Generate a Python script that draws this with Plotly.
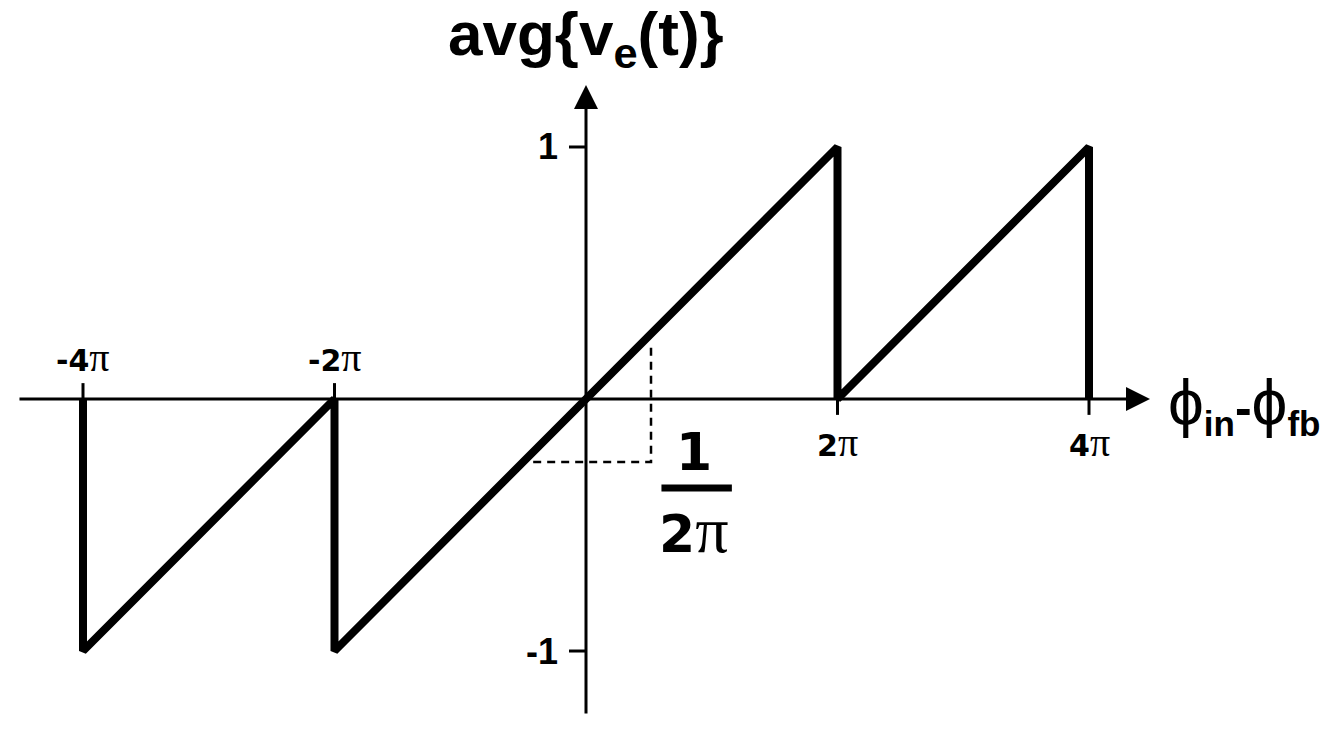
import plotly.graph_objects as go

# ---- data (x in units of pi) ----
saw_x = [-4, -4, -2, -2, 2, 2, 4, 4]
saw_y = [0, -1, 0, -1, 1, 0, 1, 0]

dash_x = [-0.42, 0.517, 0.517]
dash_y = [-0.25, -0.25, 0.214]

xtick_vals = [-4, -2, 2, 4]
xtick_labels = ["-4", "-2", "2", "4"]
ytick_vals = [1, -1]
ytick_labels = ["1", "-1"]

X_RANGE = [-4.660, 6.004]
Y_RANGE = [-1.3214, 1.5833]

SANS = "DejaVu Sans"
TITLE_FONT = "Liberation Sans"


def pi(size):
    return ('<span style="font-family:Liberation Serif;font-weight:normal;font-size:%dpx">π</span>' % size)


def phi(size):
    return ('<span style="font-family:Liberation Sans;font-weight:normal;font-size:%dpx">ϕ</span>' % size)


fig = go.Figure()

# sawtooth
fig.add_trace(go.Scatter(x=saw_x, y=saw_y, mode="lines",
                         line=dict(color="black", width=8),
                         hoverinfo="skip", showlegend=False))
# dashed guide
fig.add_trace(go.Scatter(x=dash_x, y=dash_y, mode="lines",
                         line=dict(color="black", width=2.5, dash="8px,6px"),
                         hoverinfo="skip", showlegend=False))

ann = []
# axes with arrows
ann.append(dict(x=4.485, y=0, ax=-4.517, ay=0, xref="x", yref="y", axref="x", ayref="y",
                showarrow=True, arrowhead=2, arrowsize=1.6, arrowwidth=3, arrowcolor="black", text=""))
ann.append(dict(x=0, y=1.246, ax=0, ay=-1.254, xref="x", yref="y", axref="x", ayref="y",
                showarrow=True, arrowhead=2, arrowsize=1.6, arrowwidth=3, arrowcolor="black", text=""))

shapes = []
# x ticks
for v in xtick_vals:
    y1 = 0.063 if v < 0 else -0.063
    shapes.append(dict(type="line", x0=v, x1=v, y0=0, y1=y1, xref="x", yref="y",
                       line=dict(color="black", width=3)))
for v in ytick_vals:
    shapes.append(dict(type="line", x0=-0.135, x1=0, y0=v, y1=v, xref="x", yref="y",
                       line=dict(color="black", width=3)))

# tick labels
for v, t in zip(xtick_vals, xtick_labels):
    ann.append(dict(x=v, y=0, xref="x", yref="y", showarrow=False,
                    text="<b>" + t + "</b>" + pi(40),
                    yshift=42 if v < 0 else -43,
                    font=dict(family=SANS, size=30, color="black")))
for v, t in zip(ytick_vals, ytick_labels):
    ann.append(dict(x=0, y=v, xref="x", yref="y", showarrow=False,
                    text="<b>" + t + "</b>", xanchor="right", xshift=-26,
                    font=dict(family=TITLE_FONT, size=36, color="black")))

# y-axis title
ann.append(dict(x=0, y=1.246, xref="x", yref="y", showarrow=False, yshift=47,
                text="<b>avg{v<sub>e</sub>(t)}</b>",
                font=dict(family=TITLE_FONT, size=62, color="black")))
# x-axis title
ann.append(dict(x=4.612, y=0, xref="x", yref="y", showarrow=False, xanchor="left", yshift=-6,
                text=phi(64) + "<sub><b>in</b></sub><b>-</b>" + phi(64) + "<sub><b>fb</b></sub>",
                font=dict(family=TITLE_FONT, size=50, color="black")))
# fraction 1/(2π)
ann.append(dict(x=0.86, y=-0.353, xref="x", yref="y", showarrow=False, yshift=36,
                text="<b>1</b>", font=dict(family=SANS, size=52, color="black")))
ann.append(dict(x=0.86, y=-0.353, xref="x", yref="y", showarrow=False, yshift=-42,
                text="<b>2</b>" + pi(66), font=dict(family=SANS, size=52, color="black")))
shapes.append(dict(type="line", x0=0.6, x1=1.16, y0=-0.353, y1=-0.353, xref="x", yref="y",
                   line=dict(color="black", width=7)))

fig.update_layout(
    width=1341, height=732,
    margin=dict(l=0, r=0, t=0, b=0),
    paper_bgcolor="white", plot_bgcolor="white",
    xaxis=dict(range=X_RANGE, visible=False, fixedrange=True),
    yaxis=dict(range=Y_RANGE, visible=False, fixedrange=True),
    annotations=ann, shapes=shapes,
)

fig.write_html("out.html", config={"displayModeBar": False},
               post_script="document.body.style.margin='0';")
